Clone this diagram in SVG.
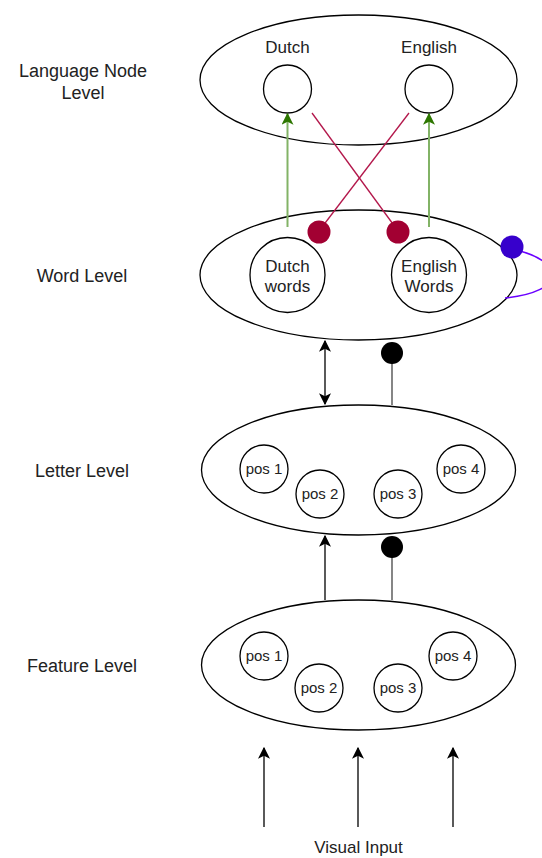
<svg xmlns="http://www.w3.org/2000/svg" width="542" height="858" viewBox="0 0 542 858">
  <style>
    .lvl { fill: #ffffff; stroke: #000000; stroke-width: 1.3; }
    .unit { fill: #ffffff; stroke: #000000; stroke-width: 1.3; }
    text { font-family: "Liberation Sans", Arial, Helvetica, sans-serif; fill: #222222; text-anchor: middle; }
    .side { font-size: 18px; }
    .name { font-size: 17px; }
    .pos { font-size: 15px; }
    .excite { stroke: #82b366; stroke-width: 2; fill: none; }
    .inhibit { stroke: #b3174b; stroke-width: 1.3; fill: none; }
    .plain { stroke: #000000; stroke-width: 1.3; fill: none; }
    .grey { stroke: #444444; stroke-width: 1.3; fill: none; }
    .self { stroke: #6a00ff; stroke-width: 1.5; fill: none; }
  </style>
  <defs>
    <marker id="arrowBlack" viewBox="0 0 10 10" refX="9" refY="5" markerWidth="12" markerHeight="12" markerUnits="userSpaceOnUse" orient="auto-start-reverse">
      <path d="M0,0 L10,5 L0,10 L2.5,5 z" fill="#000000"/>
    </marker>
    <marker id="arrowGreen" viewBox="0 0 10 10" refX="9" refY="5" markerWidth="12" markerHeight="12" markerUnits="userSpaceOnUse" orient="auto">
      <path d="M0,0 L10,5 L0,10 L2.5,5 z" fill="#2d7600"/>
    </marker>
  </defs>

  <!-- level labels on the left -->
  <g id="labels">
    <text class="side" x="83" y="77">Language Node</text>
    <text class="side" x="83" y="99">Level</text>
    <text class="side" x="82" y="282">Word Level</text>
    <text class="side" x="82" y="477">Letter Level</text>
    <text class="side" x="82" y="672">Feature Level</text>
    <text class="name" x="358.5" y="853">Visual Input</text>
  </g>

  <!-- language node level -->
  <g id="language-level">
    <ellipse class="lvl" cx="358.5" cy="80" rx="158.5" ry="65"/>
    <text class="name" x="287.5" y="53">Dutch</text>
    <text class="name" x="429" y="53">English</text>
    <circle id="lang-dutch" class="unit" cx="287.5" cy="89" r="24"/>
    <circle id="lang-english" class="unit" cx="429" cy="89" r="24"/>
  </g>

  <!-- word level -->
  <g id="word-level">
    <ellipse class="lvl" cx="358.5" cy="275" rx="158.5" ry="65"/>
    <g id="dutch-words">
      <circle class="unit" cx="287.5" cy="275" r="37.5"/>
      <text class="name" x="287.5" y="272">Dutch</text>
      <text class="name" x="287.5" y="292">words</text>
    </g>
    <g id="english-words">
      <circle class="unit" cx="429" cy="275" r="37.5"/>
      <text class="name" x="429" y="272">English</text>
      <text class="name" x="429" y="292">Words</text>
    </g>
  </g>

  <!-- letter level -->
  <g id="letter-level">
    <ellipse class="lvl" cx="358.5" cy="470" rx="157" ry="65"/>
    <circle class="unit" cx="264" cy="469" r="24"/>
    <text class="pos" x="264" y="474">pos 1</text>
    <circle class="unit" cx="320" cy="494" r="24"/>
    <text class="pos" x="320" y="499">pos 2</text>
    <circle class="unit" cx="398" cy="494" r="24"/>
    <text class="pos" x="398" y="499">pos 3</text>
    <circle class="unit" cx="461" cy="469" r="24"/>
    <text class="pos" x="461" y="474">pos 4</text>
  </g>

  <!-- feature level -->
  <g id="feature-level">
    <ellipse class="lvl" cx="358.5" cy="665" rx="157" ry="65"/>
    <circle class="unit" cx="264" cy="656" r="24"/>
    <text class="pos" x="264" y="661">pos 1</text>
    <circle class="unit" cx="319" cy="688" r="24"/>
    <text class="pos" x="319" y="693">pos 2</text>
    <circle class="unit" cx="398" cy="688" r="24"/>
    <text class="pos" x="398" y="693">pos 3</text>
    <circle class="unit" cx="453" cy="656" r="24"/>
    <text class="pos" x="453" y="661">pos 4</text>
  </g>

  <!-- connections between levels -->
  <g id="connectors">
    <!-- word to language: excitatory -->
    <line class="excite" x1="287.5" y1="227" x2="287.5" y2="114" marker-end="url(#arrowGreen)"/>
    <line class="excite" x1="429" y1="227" x2="429" y2="114" marker-end="url(#arrowGreen)"/>
    <!-- language to word: inhibitory -->
    <line class="inhibit" x1="312" y1="113" x2="398" y2="231"/>
    <line class="inhibit" x1="409" y1="113" x2="319" y2="231"/>
    <circle cx="319" cy="232" r="11.5" fill="#a20032"/>
    <circle cx="398" cy="232" r="11.5" fill="#a20032"/>
    <!-- word level lateral inhibition -->
    <path class="self" d="M516,250 C566,262 566,292 505,298"/>
    <circle cx="512" cy="247" r="11.5" fill="#3700cc"/>
    <!-- word <-> letter -->
    <line class="plain" x1="325" y1="341" x2="325" y2="404" marker-start="url(#arrowBlack)" marker-end="url(#arrowBlack)"/>
    <line class="grey" x1="392" y1="360" x2="392" y2="405"/>
    <circle cx="392" cy="353" r="11" fill="#000000"/>
    <!-- feature to letter -->
    <line class="plain" x1="325" y1="600" x2="325" y2="536" marker-end="url(#arrowBlack)"/>
    <line class="grey" x1="392" y1="553" x2="392" y2="600"/>
    <circle cx="392" cy="547" r="11" fill="#000000"/>
    <!-- visual input -->
    <line class="plain" x1="264" y1="827" x2="264" y2="748" marker-end="url(#arrowBlack)"/>
    <line class="plain" x1="358" y1="827" x2="358" y2="748" marker-end="url(#arrowBlack)"/>
    <line class="plain" x1="453" y1="827" x2="453" y2="748" marker-end="url(#arrowBlack)"/>
  </g>
</svg>
